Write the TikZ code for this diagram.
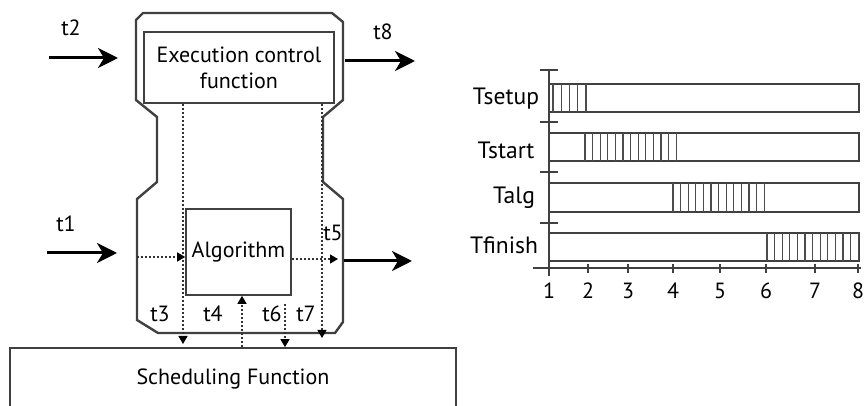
\documentclass[tikz,border=0pt]{standalone}
\usepackage{fontspec}
\setmainfont{PT Sans}
\usetikzlibrary{positioning, arrows.meta}
\tikzset{>=latex}
\tikzset{
    block/.style = {rectangle, draw=black!75, thick, align=center, inner sep=0pt},
    flow/.style = {draw=black!80, line width=0.6pt, dash pattern=on 1pt off 1pt,
                        -{Triangle[length=4pt,width=4.5pt,black]}},
    signal/.style = {line width=1.5pt, -{Stealth[length=10pt,width=10pt,inset=3pt]}},
    tlabel/.style = {inner sep=0pt},
    bar/.style = {draw=black!75, thick},
    hatch/.style = {draw=black!70, line width=0.6pt}
}

\begin{document}
\begin{tikzpicture}[x=0.5pt, y=-0.5pt, font=\fontsize{11}{13}\selectfont]
		\useasboundingbox (0,0) rectangle (864,406);
		\clip (0,0) rectangle (864,406);
		\draw [black!75, line width=1.2pt] (143,13) -- (332,13) -- (343,22) -- (343,100) -- (323,117)
			-- (323,182) -- (343,199) -- (343,322) -- (335,333) -- (158,333) -- (137,320)
			-- (137,199) -- (157,182) -- (157,117) -- (136,100) -- (136,20) -- cycle;
		\node (ecf) [block, minimum width=95pt, minimum height=35.5pt] at (239,67.5) {Execution control\\function};
		\node (alg) [block, minimum width=52.5pt, minimum height=43pt] at (238.5,252) {Algorithm};
		\node (sched) [block, minimum width=223pt, minimum height=31pt] at (233,379) {Scheduling Function};
		\coordinate (t2a) at (49,58);
		\coordinate (t2b) at (118,58);
		\coordinate (t1a) at (47,253);
		\coordinate (t1b) at (117,253);
		\coordinate (t8a) at (345,61);
		\coordinate (t8b) at (415,61);
		\coordinate (t5a) at (344,261);
		\coordinate (t5b) at (412,261);
		\draw [signal] (t2a) -- (t2b);
		\draw [signal] (t1a) -- (t1b);
		\draw [signal] (t8a) -- (t8b);
		\draw [signal] (t5a) -- (t5b);
		\coordinate (t3end) at (183,344);
		\coordinate (t7end) at (322,338);
		\coordinate (t4x) at (242,0);
		\coordinate (t6start) at (285,304);
		\coordinate (inlet) at (137,257);
		\coordinate (outlet) at (338,259);
		\draw [flow] (ecf.south -| t3end) -- (t3end);
		\draw [flow] (ecf.south -| t7end) -- (t7end);
		\draw [flow] (sched.north -| t4x) -- (alg.south -| t4x);
		\draw [flow] (t6start) -- (sched.north -| t6start);
		\draw [flow] (inlet) -- (alg.west |- inlet);
		\draw [flow] (alg.east |- outlet) -- (outlet);
		\node (lt2) [tlabel] at (71,28) {t2};
		\node (lt8) [tlabel] at (383,32) {t8};
		\node (lt1) [tlabel] at (66,224) {t1};
		\node (lt5) [tlabel] at (333,233) {t5};
		\node (lt3) [tlabel] at (160,314) {t3};
		\node (lt4) [tlabel] at (213,314) {t4};
		\node (lt6) [tlabel] at (272,314) {t6};
		\node (lt7) [tlabel] at (306,314) {t7};
		\foreach \top/\bot in {84/112, 133/161, 183/212, 233/261}
			\draw [bar] (549,\top) rectangle (859,\bot);
		\foreach \x in {553,561.25,...,587} \draw [hatch] (\x,84) -- (\x,112);
		\foreach \x in {585,592.6,...,677} \draw [hatch] (\x,133) -- (\x,161);
		\foreach \x in {673,680.6,...,765} \draw [hatch] (\x,183) -- (\x,212);
		\foreach \x in {767,774.6,...,859} \draw [hatch] (\x,233) -- (\x,261);
		\draw [black!75, thick] (549,70) -- (549,276);
		\draw [black!75, thick] (533,268) -- (861,268);
		\foreach \y in {70,122,172,223} \draw [black!75, thick] (540,\y) -- (558,\y);
		\foreach \v/\px in {1/549, 2/588, 3/628, 4/673, 5/720, 6/766, 7/815, 8/858} {
			\draw [black!75, thick] (\px,264) -- (\px,273);
			\node (tick\v) [tlabel] at (\px,291) {\v};
		}
		\node (lsetup) [tlabel, font=\fontsize{11.8}{14}\selectfont] at (506,99) {Tsetup};
		\node (lstart) [tlabel, font=\fontsize{11.8}{14}\selectfont] at (506,150) {Tstart};
		\node (lalg) [tlabel, font=\fontsize{11.8}{14}\selectfont] at (514,198) {Talg};
		\node (lfinish) [tlabel, font=\fontsize{11.8}{14}\selectfont] at (504,245) {Tfinish};
	\end{tikzpicture}
\end{document}
